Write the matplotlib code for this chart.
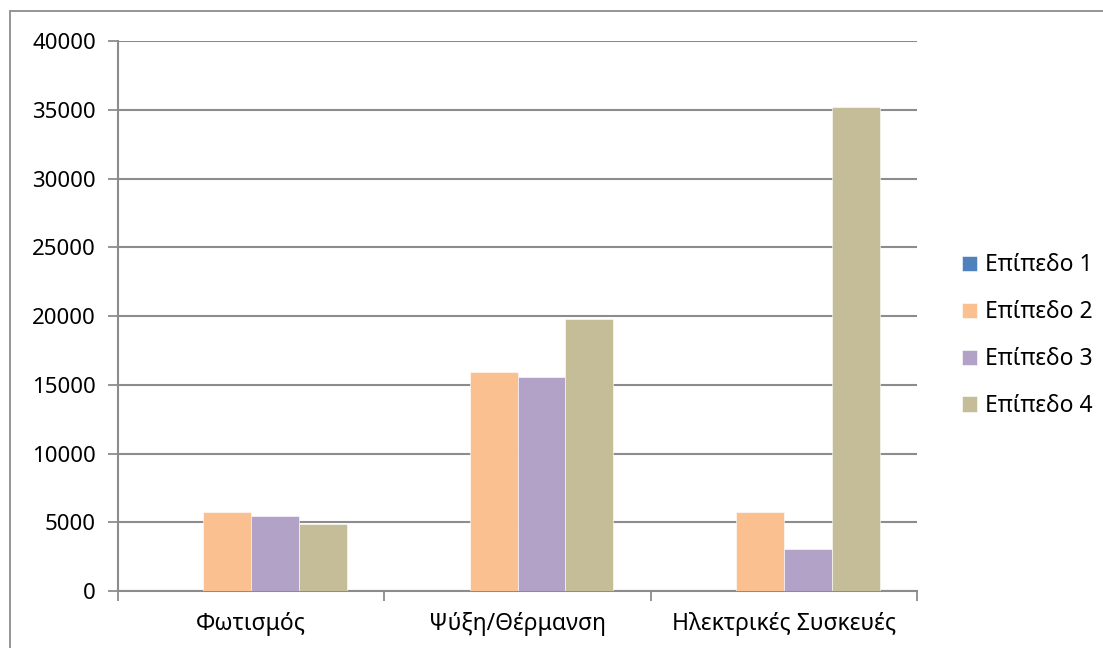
import numpy as np
import matplotlib.pyplot as plt
from matplotlib.patches import Rectangle

plt.rcParams['font.family'] = ['Noto Sans', 'DejaVu Sans']

# Κατανάλωση ανά κατηγορία και επίπεδο
categories = ["Φωτισμός", "Ψύξη/Θέρμανση", "Ηλεκτρικές Συσκευές"]
series_names = ["Επίπεδο 1", "Επίπεδο 2", "Επίπεδο 3", "Επίπεδο 4"]
level1 = [0, 0, 0]
level2 = [5720, 15930, 5720]
level3 = [5480, 15540, 3060]
level4 = [4850, 19800, 35180]
colors = ["#4f81bd", "#fac090", "#b2a2c7", "#c4bd97"]

fig = plt.figure(figsize=(11.03, 6.48), dpi=100)
ax = fig.add_axes([118 / 1103, 1 - 591 / 648, 799 / 1103, 550 / 648])

# Πλαίσιο γραφήματος
fig.patches.append(Rectangle((10 / 1103, -0.1), 1.2, 1 - 11 / 648 + 0.1,
                             transform=fig.transFigure, fill=False,
                             edgecolor="#8c8c8c", linewidth=1.3))

x = np.arange(len(categories))
w = 0.18
for i, (vals, name, c) in enumerate(zip([level1, level2, level3, level4], series_names, colors)):
    ax.bar(x + (i - 1.5) * w, vals, width=w, color=c, label=name,
           edgecolor="white", linewidth=0.4, zorder=3)

ax.set_xlim(-0.5, 2.5)
ax.set_ylim(0, 40000)
ax.set_yticks(np.arange(0, 40001, 5000))
ax.yaxis.grid(True, color="#8c8c8c", linewidth=1.5, zorder=0)

ax.set_xticks(x)
ax.set_xticklabels(categories, fontsize=16.5)
ax.set_xticks([-0.5, 0.5, 1.5, 2.5], minor=True)
ax.tick_params(axis="x", which="major", length=0, pad=15)
ax.tick_params(axis="x", which="minor", length=7, width=1.3, color="#8c8c8c", direction="out")
ax.tick_params(axis="y", length=7, width=1.3, color="#8c8c8c", direction="out",
               labelsize=16, pad=9)

for s in ["top", "right"]:
    ax.spines[s].set_visible(False)
for s in ["left", "bottom"]:
    ax.spines[s].set_color("#8c8c8c")
    ax.spines[s].set_linewidth(1.5)

ax.legend(loc="center left", bbox_to_anchor=(1.045, 0.464), frameon=False,
          fontsize=16.5, handlelength=0.65, handleheight=0.65, handletextpad=0.35,
          labelspacing=1.0, borderaxespad=0)

fig.savefig("out.png", dpi=100)
